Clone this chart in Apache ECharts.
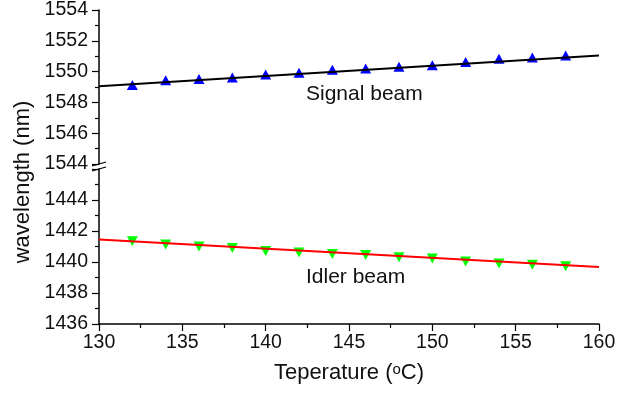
<!DOCTYPE html>
<html><head><meta charset="utf-8">
<script src="https://cdn.jsdelivr.net/npm/echarts@6/dist/echarts.min.js"></script>
<style>html,body{margin:0;padding:0;background:#fff}#c{width:636px;height:393px}</style>
</head><body><div id="c"></div>
<script>
const temps = [132,134,136,138,140,142,144,146,148,150,152,154,156,158];
const signalValues = [1549.13,1549.44,1549.52,1549.61,1549.81,1549.92,1550.12,1550.20,1550.31,1550.42,1550.63,1550.83,1550.91,1551.04];
const idlerValues = [1441.34,1441.13,1441.00,1440.90,1440.71,1440.61,1440.52,1440.45,1440.30,1440.22,1440.03,1439.90,1439.83,1439.72];
const fitX = [130,160];
const signalFitY = [1549.05,1551.05];
const idlerFitY = [1441.45,1439.68];
const xTicks = [130,135,140,145,150,155,160];
const upperTicks = [1544,1546,1548,1550,1552,1554];
const lowerTicks = [1436,1438,1440,1442,1444];

const FONT = 'Liberation Sans, Arial, sans-serif';
const TXT = '#111';
const zip = (xs, ys) => xs.map((x, i) => [x, ys[i]]);

const chart = echarts.init(document.getElementById('c'), null, {renderer: 'canvas'});
const axisLineStyle = {show: true, onZero: false, lineStyle: {color: '#000', width: 1.5}};
function yAxis(grid, ticks) {
  const step = ticks[1] - ticks[0];
  return {
    type: 'value', gridIndex: grid, min: ticks[0], max: ticks[0] + step * 5, interval: step,
    axisLine: axisLineStyle,
    axisTick: {show: true, inside: false, length: 7, lineStyle: {color: '#000', width: 1.2}},
    minorTick: {show: true, splitNumber: 2, length: 4, lineStyle: {color: '#000', width: 1.2}},
    splitLine: {show: false},
    axisLabel: {fontFamily: FONT, fontSize: 19.5, color: TXT, margin: 11,
      showMaxLabel: ticks.length === 6,
      formatter: v => ticks.indexOf(v) >= 0 ? String(v) : ''}
  };
}
chart.setOption({
  animation: false,
  backgroundColor: '#fff',
  grid: [
    {left: 99, right: 37, top: 9, height: 155},
    {left: 99, right: 37, top: 169, height: 155}
  ],
  xAxis: [
    {type: 'value', gridIndex: 0, min: xTicks[0], max: xTicks[xTicks.length-1], interval: 5, show: false},
    {type: 'value', gridIndex: 1, min: xTicks[0], max: xTicks[xTicks.length-1], interval: 5,
      axisLine: axisLineStyle,
      axisTick: {show: true, length: 7, lineStyle: {color: '#000', width: 1.2}},
      minorTick: {show: true, splitNumber: 2, length: 4, lineStyle: {color: '#000', width: 1.2}},
      splitLine: {show: false},
      axisLabel: {fontFamily: FONT, fontSize: 19.5, color: TXT, margin: 9},
      name: 'Teperature ({sup|o}C)', nameLocation: 'middle', nameGap: 38,
      nameTextStyle: {fontFamily: FONT, fontSize: 22, color: TXT,
        rich: {sup: {fontFamily: FONT, fontSize: 15, color: TXT, verticalAlign: 'top'}}}
    }
  ],
  yAxis: [yAxis(0, upperTicks), yAxis(1, lowerTicks)],
  series: [
    {type: 'line', xAxisIndex: 0, yAxisIndex: 0, data: zip(fitX, signalFitY), showSymbol: false,
      lineStyle: {color: '#000', width: 2}, silent: true},
    {type: 'scatter', xAxisIndex: 0, yAxisIndex: 0, data: zip(temps, signalValues),
      symbol: 'triangle', symbolSize: [11, 10], itemStyle: {color: '#0000ff', opacity: 1}},
    {type: 'line', xAxisIndex: 1, yAxisIndex: 1, data: zip(fitX, idlerFitY), showSymbol: false,
      lineStyle: {color: '#ff0000', width: 2}, silent: true},
    {type: 'scatter', xAxisIndex: 1, yAxisIndex: 1, data: zip(temps, idlerValues),
      symbol: 'triangle', symbolRotate: 180, symbolSize: [11, 10], itemStyle: {color: '#00ff00', opacity: 1}}
  ],
  graphic: [
    {type: 'line', shape: {x1: 92, y1: 166, x2: 106, y2: 162}, style: {stroke: '#000', lineWidth: 1.2}},
    {type: 'line', shape: {x1: 92, y1: 171, x2: 106, y2: 167}, style: {stroke: '#000', lineWidth: 1.2}},
    {type: 'text', x: 23, y: 182, rotation: Math.PI / 2,
      style: {text: 'wavelength (nm)', fontFamily: FONT, fontSize: 22, fill: TXT, textAlign: 'center', textVerticalAlign: 'middle'}},
    {type: 'text', x: 306, y: 94,
      style: {text: 'Signal beam', fontFamily: FONT, fontSize: 21, fill: TXT, textAlign: 'left', textVerticalAlign: 'middle'}},
    {type: 'text', x: 306, y: 277,
      style: {text: 'Idler beam', fontFamily: FONT, fontSize: 21, fill: TXT, textAlign: 'left', textVerticalAlign: 'middle'}}
  ]
});
</script></body></html>
